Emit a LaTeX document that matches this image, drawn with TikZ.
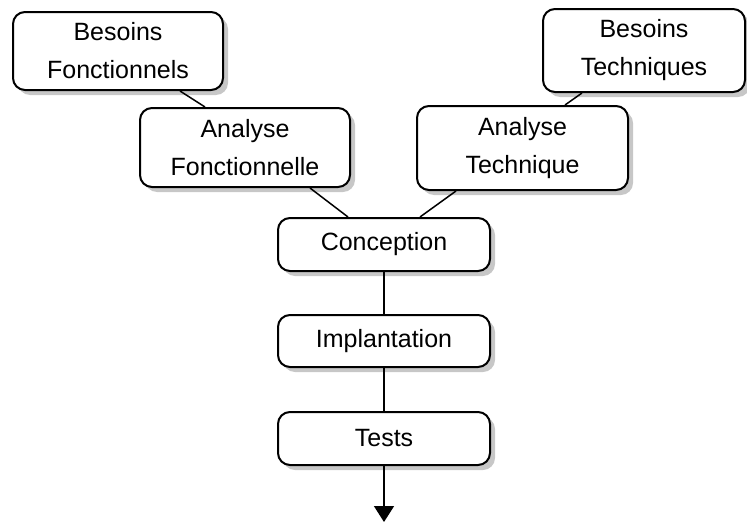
\documentclass[tikz,border=0pt]{standalone}
\usepackage{fontspec}
\setmainfont{Liberation Sans}
\usetikzlibrary{shadows,arrows.meta}
\begin{document}
\begin{tikzpicture}[x=1pt,y=-1pt,
  stage/.style={draw=black, line width=2pt, rounded corners=12pt, fill=white,
    align=center, inner sep=0pt, font=\fontsize{25}{38}\selectfont,
    drop shadow={shadow xshift=5pt, shadow yshift=-5pt, fill=black!22, opacity=1}},
  link/.style={draw=black, line width=1.5pt}]
\useasboundingbox (0,0) rectangle (747,522);

% requirement and analysis stages
\node[stage, minimum width=210pt, minimum height=78pt] (bf) at (118,51) {Besoins\\Fonctionnels};
\node[stage, minimum width=210pt, minimum height=79pt] (af) at (245,147.5) {Analyse\\Fonctionnelle};
\node[stage, minimum width=202pt, minimum height=83pt] (bt) at (644,50.5) {Besoins\\Techniques};
\node[stage, minimum width=211pt, minimum height=84pt] (at) at (522.5,148) {Analyse\\Technique};

% realisation chain
\node[stage, minimum width=212pt, minimum height=53pt] (co) at (384,244.5) {Conception};
\node[stage, minimum width=212pt, minimum height=52pt] (im) at (384,341) {Implantation};
\node[stage, minimum width=212pt, minimum height=53pt] (te) at (384,438.5) {Tests};
\coordinate (out) at (384,522);

% connectors
\draw[link] ([xshift=62pt]bf.south) -- ([xshift=-40pt]af.north);
\draw[link] ([xshift=65pt]af.south) -- ([xshift=-36pt]co.north);
\draw[link] ([xshift=-62pt]bt.south) -- ([xshift=42.5pt]at.north);
\draw[link] ([xshift=-66.5pt]at.south) -- ([xshift=36pt]co.north);
\draw[link] (co.south) -- (im.north);
\draw[link] (im.south) -- (te.north);
\draw[link, -{Triangle[width=20pt,length=16pt]}] (te.south) -- (out);
\end{tikzpicture}
\end{document}
